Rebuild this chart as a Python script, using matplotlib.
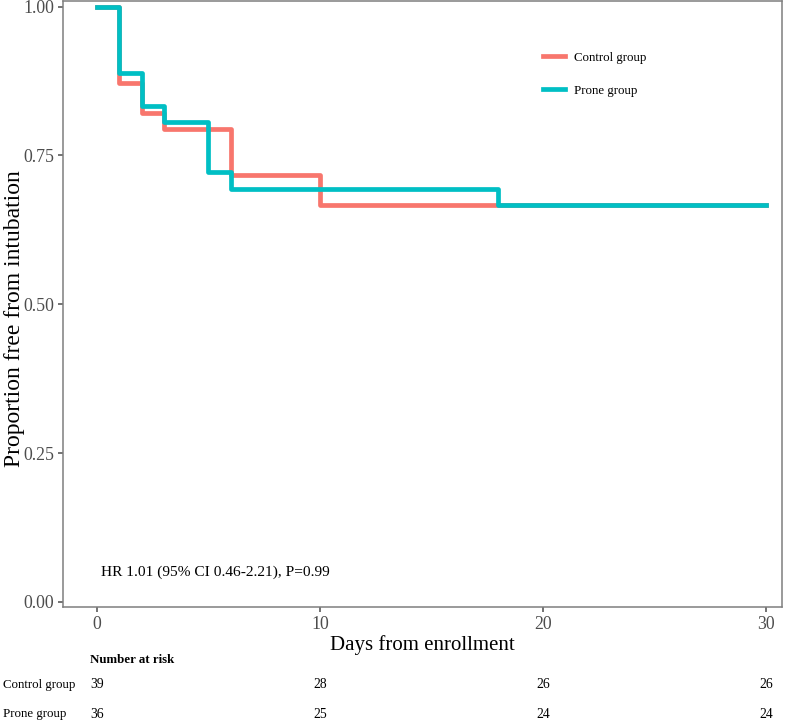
import numpy as np
import matplotlib.pyplot as plt
import matplotlib.transforms as mtransforms

plt.rcParams["font.family"] = ["Liberation Serif", "DejaVu Serif"]

# Kaplan-Meier step data (time, survival)
control_t = [0, 1, 2, 3, 6, 10, 30]
control_s = [1.000, 0.872, 0.821, 0.795, 0.718, 0.667, 0.667]
prone_t = [0, 1, 2, 3, 5, 6, 18, 30]
prone_s = [1.000, 0.889, 0.833, 0.806, 0.722, 0.694, 0.667, 0.667]

risk_times = [0, 10, 20, 30]
risk_control = [39, 28, 26, 26]
risk_prone = [36, 25, 24, 24]
groups = ["Control group", "Prone group"]
colors = ["#F8766D", "#00BFC4"]

fig = plt.figure(figsize=(7.97, 7.24), dpi=100)
ax = fig.add_axes([0.079, 0.1616, 0.902, 0.8374])

ax.step(control_t, control_s, where="post", color=colors[0], lw=3.4, label=groups[0])
ax.step(prone_t, prone_s, where="post", color=colors[1], lw=3.4, label=groups[1])

ax.set_xlim(-1.52, 30.7)
ax.set_ylim(-0.0085, 1.01)
ax.set_xticks([0, 10, 20, 30])
ax.set_yticks([0, 0.25, 0.5, 0.75, 1.0])
ax.set_yticklabels(["0.00", "0.25", "0.50", "0.75", "1.00"])
ax.tick_params(colors="#4D4D4D", labelsize=12.8, length=3.8, width=1.1, pad=2.5)
for sp in ax.spines.values():
    sp.set_color("#7F7F7F")
    sp.set_linewidth(1.1)

ax.set_xlabel("Days from enrollment", fontsize=15, labelpad=2)
ax.set_ylabel("Proportion free from intubation", fontsize=17, va="center")
ax.yaxis.set_label_coords(-0.068, 0.476)

ax.text(0.2, 0.05, "HR 1.01 (95% CI 0.46-2.21), P=0.99", fontsize=11.1, va="center")

leg = ax.legend(loc="upper left", bbox_to_anchor=(0.652, 0.935), frameon=False,
                fontsize=9.3, handlelength=1.7, labelspacing=1.6, handletextpad=0.7)

# number at risk table
trans = mtransforms.blended_transform_factory(ax.transData, fig.transFigure)
fig.text(90 / 797, 1 - 660 / 724, "Number at risk", fontsize=9.3, fontweight="bold", va="center")
rows_y = [1 - 685 / 724, 1 - 714 / 724]
for y, name, vals in zip(rows_y, groups, [risk_control, risk_prone]):
    fig.text(3 / 797, y, name, fontsize=9.3, va="center")
    for t, v in zip(risk_times, vals):
        ax.text(t, y, str(v), transform=trans, fontsize=9.8, ha="center", va="center",
                clip_on=False)

fig.savefig("out.png", dpi=100)
